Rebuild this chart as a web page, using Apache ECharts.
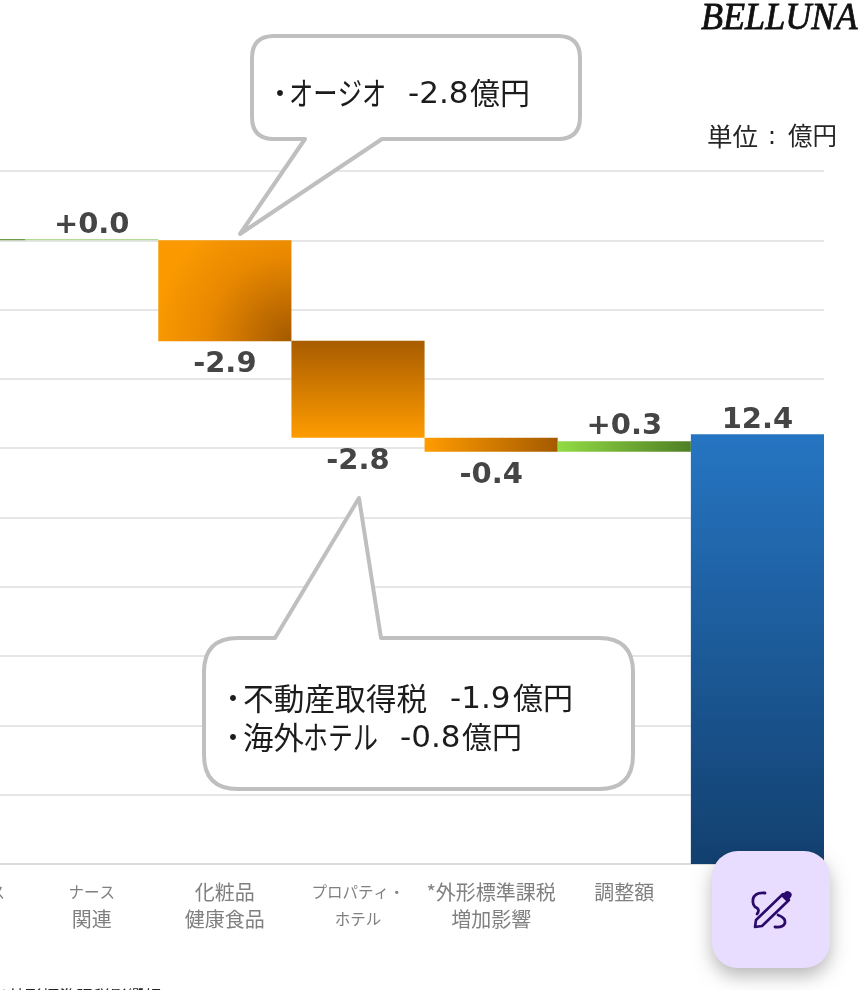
<!DOCTYPE html>
<html><head><meta charset="utf-8">
<style>html,body{margin:0;padding:0;background:#fff}#c{width:863px;height:990px}</style>
<script src="https://cdn.jsdelivr.net/npm/echarts@6/dist/echarts.min.js"></script>
</head><body><div id="c"></div>
<script>
const categories = ['ファイナンス','ナース\n関連','化粧品\n健康食品','プロパティ・\nホテル','*外形標準課税\n増加影響','調整額',''];
const baseValues = [18.0, 18.0, 15.09, 12.3, 11.9, 11.9, 0];
const barValues  = [0.04, 0.04, 2.91, 2.8, 0.4, 0.3, 12.4];
const barLabels  = ['', '+0.0', '-2.9', '-2.8', '-0.4', '+0.3', '12.4'];
const labelSides = ['top','top','bottom','bottom','bottom','top','top'];
const yTicks = {min:0, max:20, step:2};

const lg = (x,y,x2,y2,a,b)=>new echarts.graphic.LinearGradient(x,y,x2,y2,[{offset:0,color:a},{offset:1,color:b}]);
const fills = [
  '#6f9a4a',
  '#b4da98',
  new echarts.graphic.RadialGradient(1,1,1.4,[{offset:0,color:'#a45a00'},{offset:0.25,color:'#c06c00'},{offset:0.6,color:'#e88800'},{offset:1,color:'#fb9a00'}]),
  lg(0,0,0,1,'#a85c00','#ff9c00'),
  lg(0,0,1,0,'#ff9c00','#a55a00'),
  lg(0,0,1,0,'#92db44','#4f7f25'),
  lg(0,0,0,1,'#2675c2','#12406f')
];
const cjk = '"Noto Sans CJK JP","Noto Sans",sans-serif';
const latin = '"DejaVu Sans","Noto Sans CJK JP",sans-serif';
const chart = echarts.init(document.getElementById('c'),null,{renderer:'canvas'});

let shapeCount=0;
const pathEl=(d,style,z)=>{
  const name='overlay'+(shapeCount++);
  echarts.graphic.registerShape(name,echarts.graphic.extendPath(d,{}));
  return {type:name,z:z,style:style};
};
const bubble = (x0,y0,x1,y1,r,tail)=>{
  const [a,tx,ty,b]=tail;
  const top = ty<y0;
  let d=`M${x0+r} ${y0}`;
  if(top) d+=`L${a} ${y0}L${tx} ${ty}L${b} ${y0}`;
  d+=`L${x1-r} ${y0}Q${x1} ${y0} ${x1} ${y0+r}L${x1} ${y1-r}Q${x1} ${y1} ${x1-r} ${y1}`;
  if(!top) d+=`L${b} ${y1}L${tx} ${ty}L${a} ${y1}`;
  d+=`L${x0+r} ${y1}Q${x0} ${y1} ${x0} ${y1-r}L${x0} ${y0+r}Q${x0} ${y0} ${x0+r} ${y0}Z`;
  return pathEl(d,{fill:'#fff',stroke:'#bfbfbf',lineWidth:4,lineJoin:'round'},20);
};
const dark='#1c1c1c';
const txt=(x,y,t,size,fill,opts)=>{
  opts=opts||{};
  return {type:'text',z:21,x,y,scaleX:opts.sx||1,style:{text:t,fontSize:size,fill,fontFamily:opts.font||cjk,verticalAlign:'middle',align:opts.align||'left'}};
};
const ink='#2a0a6b';
const kanaRun=/([\u30A0-\u30FF]+)/g;
const labelDistance=i=>labelSides[i]==='bottom'?9:(i===1?-1:(i===6?-1:0));

chart.setOption({
  animation:false,
  backgroundColor:'#fff',
  grid:{left:-108,right:39,top:171,bottom:126,containLabel:false,outerBoundsMode:'none'},
  xAxis:{type:'category',data:categories,
    axisLine:{lineStyle:{color:'#dcdcdc',width:2}},axisTick:{show:false},
    axisLabel:{color:'#808080',fontSize:20,fontFamily:cjk,interval:0,margin:15,lineHeight:27,align:'center',verticalAlign:'top',
      formatter:v=>v.replace(kanaRun,'{k|$1}'),
      rich:{k:{fontSize:15.5,color:'#808080',fontFamily:cjk,lineHeight:27}}}},
  yAxis:{type:'value',min:yTicks.min,max:yTicks.max,interval:yTicks.step,
    axisLine:{show:false},axisTick:{show:false},axisLabel:{show:false},
    splitLine:{lineStyle:{color:'#e6e6e6',width:2}}},
  series:[
    {type:'bar',stack:'w',data:baseValues,barWidth:'100%',barGap:0,itemStyle:{color:'rgba(0,0,0,0)'},silent:true},
    {type:'bar',stack:'w',barWidth:'100%',barGap:0,
     data:barValues.map((v,i)=>({value:v,itemStyle:{color:fills[i]},
       label:{show:!!barLabels[i],formatter:barLabels[i],position:labelSides[i],distance:labelDistance(i)}})),
     label:{show:true,color:'#454545',fontSize:29,fontWeight:'bold',fontFamily:'"DejaVu Sans",sans-serif'}}
  ],
  graphic:[
    bubble(252,36,580,139,22,[305,240,234,382]),
    bubble(204,638,633,789,34,[275,359,498,381]),
    txt(266,93,'・',28,dark),
    txt(289,93,'オージオ',32,dark,{sx:0.76}),
    txt(408,95,'-2.8',31,dark,{font:latin}),
    txt(470,93,'億円',30,dark),
    txt(219,698,'・',28,dark),
    txt(243,698,'不動産取得税',30.7,dark),
    txt(450,700,'-1.9',31,dark,{font:latin}),
    txt(513,698,'億円',30,dark),
    txt(219,737,'・',28,dark),
    txt(243,737,'海外',30.5,dark),
    txt(303,737,'ホテル',32,dark,{sx:0.78}),
    txt(400,739,'-0.8',31,dark,{font:latin}),
    txt(462,737,'億円',30,dark),
    txt(707,136,'単位',25.5,'#262626'),
    txt(772,137,':',25,'#262626',{align:'center',font:latin}),
    txt(788,136,'億円',24.5,'#262626'),
    {type:'text',z:21,x:701,y:19,scaleX:0.95,style:{text:'BELLUNA',fontSize:38,fontStyle:'italic',fontFamily:'"Liberation Serif",serif',fill:'#111',stroke:'#111',lineWidth:0.8,verticalAlign:'middle'}},
    txt(0,997,'*外形標準課税影響額',17,'#222'),
    {type:'rect',z:30,shape:{x:712,y:851,width:118,height:117,r:26},style:{fill:'#e9ddff',shadowBlur:18,shadowOffsetY:8,shadowColor:'rgba(0,0,0,0.28)'}},
    pathEl('M783 894 L789 900 L762 926 L755 927 L756 920 Z',{fill:'none',stroke:ink,lineWidth:2.6,lineJoin:'round'},31),
    pathEl('M781 896 L787 902 L791 897 Q793 894 790 892 Q787 890 785 892 Z',{fill:ink},31),
    pathEl('M765 893 Q755 892 753 899 Q752 906 757 908 Q760 910 757 914',{fill:'none',stroke:ink,lineWidth:2.8,lineCap:'round'},31),
    pathEl('M778 915 Q786 918 785 923 Q783 928 775 927',{fill:'none',stroke:ink,lineWidth:2.8,lineCap:'round'},31)
  ]
});
</script></body></html>
